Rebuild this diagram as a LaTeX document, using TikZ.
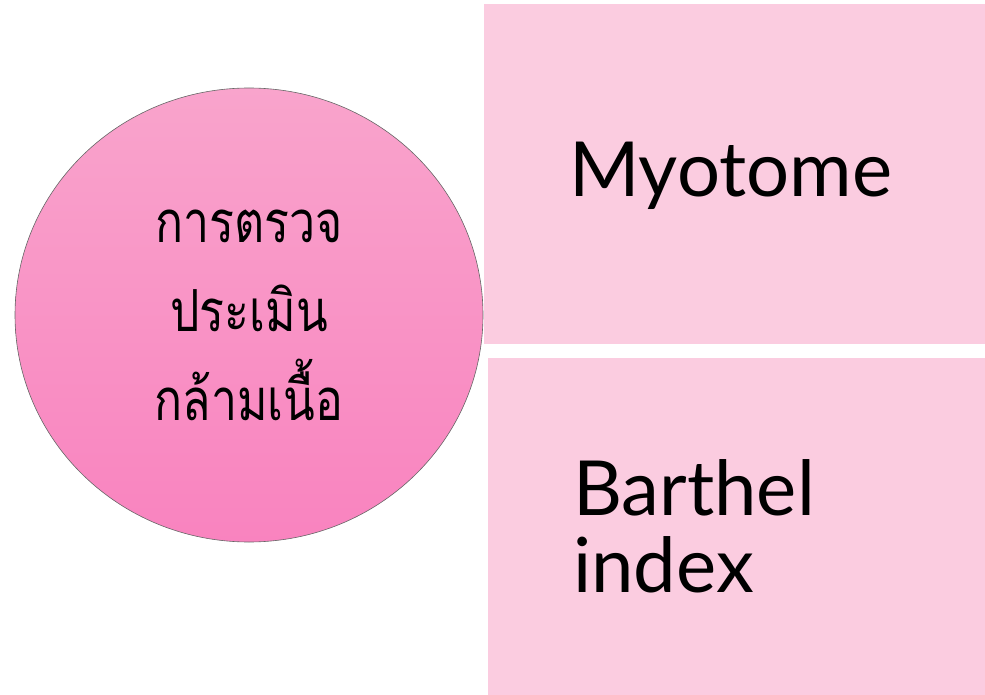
\documentclass[tikz,border=0pt]{standalone}
\usepackage{fontspec}
\setmainfont{Lato}
\newfontfamily\thaifont[Script=Thai,FakeStretch=0.8]{Loma}
\usetikzlibrary{shapes.geometric}
\definecolor{boxpink}{HTML}{FBCCE0}
\definecolor{topcirc}{HTML}{F9A4CC}
\definecolor{botcirc}{HTML}{F983BF}
\tikzset{
  box/.style={fill=boxpink, draw=none, inner xsep=85pt, inner ysep=0pt, align=left,
    font=\fontsize{76}{77}\selectfont, anchor=north west},
  circ/.style={ellipse, draw=gray!80!black, line width=0.6pt, top color=topcirc, bottom color=botcirc,
    minimum width=468pt, minimum height=454pt, inner sep=0pt, align=center,
    font=\thaifont\fontsize{58}{89}\selectfont}
}
\begin{document}
\begin{tikzpicture}[x=1pt,y=-1pt]
\useasboundingbox (0,0) rectangle (985,695);
\node[box, text width=331pt, minimum height=340pt, text depth=9pt] (myo) at (484,4) {Myotome};
\node[box, text width=327pt, minimum height=337pt] (bar) at (488,358) {Barthel\\index};
\node[circ] (main) at (249,315) {การตรวจ\\ประเมิน\\กล้ามเนื้อ};
\end{tikzpicture}
\end{document}
